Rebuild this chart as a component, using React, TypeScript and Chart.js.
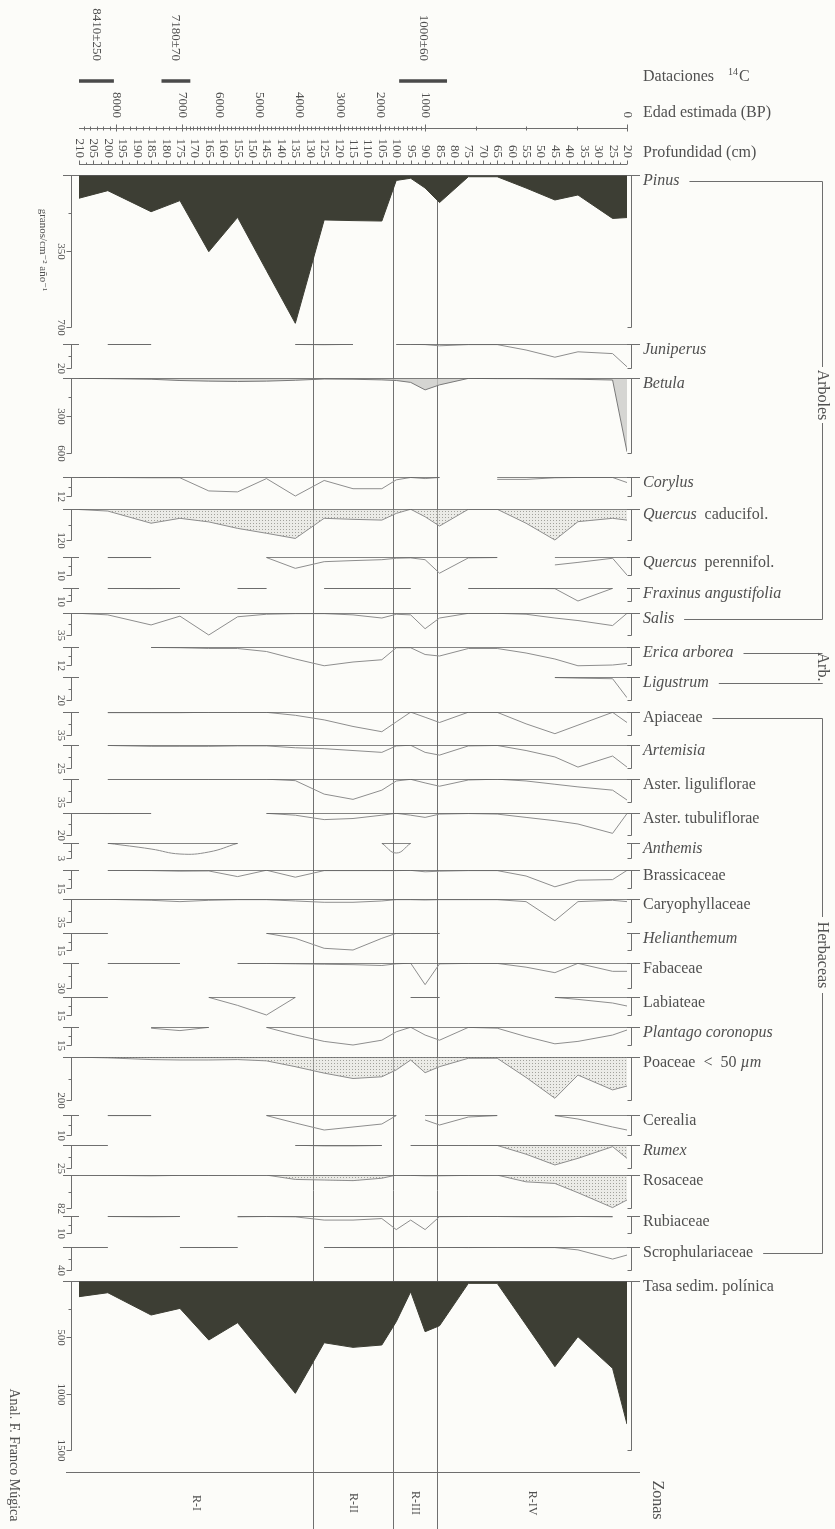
import React, { useEffect, useRef } from 'react';
import { Chart, registerables } from 'chart.js';

Chart.register(...registerables);

// ---------------- DATA ----------------
const depthsCm = [210, 200, 185, 175, 165, 155, 145, 135, 125, 115, 105, 100, 95, 90, 85, 75, 65, 55, 45, 37, 25, 20];

const depthTickLabels = [210, 205, 200, 195, 190, 185, 180, 175, 170, 165, 160, 155, 150, 145, 140, 135, 130, 125, 120, 115, 110, 105, 100, 95, 90, 85, 80, 75, 70, 65, 60, 55, 50, 45, 40, 35, 30, 25, 20];
const ageLabels = ['8000', '7000', '6000', '5000', '4000', '3000', '2000', '1000', '0'];
const ageDepths = [197, 174.2, 161.6, 147.7, 133.8, 119.5, 105.6, 90, 20];

const datingLabels = ['8410±250', '7180±70', '1000±60'];
const datingFrom = [210, 181.4, 99];
const datingTo = [197.9, 171.4, 82.4];

const zoneNames = ['R-I', 'R-II', 'R-III', 'R-IV'];
const zoneBounds = [129, 101, 86];

const pinus = [107, 72, 169, 118, 353, 195, 440, 683, 207, 210, 212, 25, 15, 60, 127, 8, 8, 60, 115, 92, 200, 196];
const juniperus = [null, 0.4, 0.4, null, null, null, null, 0.4, 0.6, 0.3, null, 0.3, 0.3, 0.5, 1.5, 0.5, 0.5, 5, 11, 6.5, 8, 19];
const betula = [3, 5, 10, 20, 25, 28, 25, 18, 8, 10, 15, 20, 35, 95, 55, 3, 5, 5, 8, 10, 16, 590];
const corylus = [0.3, 0.3, 0.5, 0.5, 8.8, 9.4, 1, 12, 2.2, 7.4, 7.4, 1.8, 0.3, 1, 0.3, null, 1.5, 1.5, 0.5, 0.3, 0.3, 3.5];
const quercusCad = [2, 8, 55, 36, 50, 75, 94, 114, 36, 40, 43, 17, 1, 30, 66, 1, 1, 55, 120, 49, 36, 43];
const quercusPer = [null, 0.3, 0.3, null, null, null, 0.3, 6.3, 2.6, 2, 1.5, 0.7, 0.5, 1.5, 9, 0.5, 0.3, null, 4.4, 3, 0.7, 10];
const fraxinus = [null, 0.3, 0.5, 0.3, null, 0.3, 0.3, null, 0.3, 0.3, 0.3, 0.3, 0.3, null, null, 0.3, 0.3, 0.3, 0.5, 10, 0.3, null];
const salix = [0.5, 3, 19, 5, 35, 6, 2, 1, 1, 3, 8, 2, 3, 25, 8, 0.5, 0.5, 2, 8, 12, 20, 0.5];
const erica = [null, null, 0.3, 0.5, 1, 1, 3, 8, 12.5, 10, 8.5, 0.5, 0.5, 5, 6, 1, 1, 4, 8, 12.5, 12, 11];
const ligustrum = [null, null, null, null, null, null, null, null, null, null, null, null, null, null, null, null, null, null, 0.5, 1, 1.5, 18];
const apiaceae = [null, 1, 1, 1, 0.5, 0.5, 0.5, 5, 12, 22, 30, 15, 0.2, 8, 16, 0.3, 0.5, 18, 33, 20, 0.5, 16];
const artemisia = [null, 0.5, 1.5, 1.5, 1.5, 1, 1, 3, 4, 6, 8, 1, 0.3, 8, 11, 1, 0.5, 6, 13, 24, 12, 24];
const asterLig = [null, 0.3, 0.3, 0.5, 0.5, 0.3, 0.3, 2.5, 23, 31, 17, 3, 0.5, 6, 11, 1.5, 0.3, 3, 8, 12, 17, 32];
const asterTub = [0.3, 0.5, 0.3, null, null, null, 0.3, 2, 6, 5, 2, 0.3, 2, 4, 1, 0.5, 1, 4, 7, 10, 18.5, 0.5];
const anthemis = [null, 0.05, 1.2, 2.2, 1.8, 0.05, null, null, null, null, 0.05, 2, 0.05, null, null, null, null, null, null, null, null, null];
const brassicaceae = [null, 0.3, 0.5, 1, 0.8, 5.5, 0.2, 6, 0.5, 0.5, 0.5, 0.5, 0.3, 1.5, 1, 0.5, 0.5, 5, 14, 8.5, 8, 0.3];
const caryophyllaceae = [0.5, 0.5, 2, 4, 2, 1, 1, 3, 5, 5, 3, 1, 1, 1.5, 1, 1, 1, 4, 33, 4, 2, 4];
const helianthemum = [0.3, 0.3, null, null, null, null, 0.3, 4.7, 13.5, 15, 4.7, 0.3, 0.3, 0.3, 0.3, null, null, null, null, null, null, null];
const fabaceae = [null, 0.3, 0.3, 0.3, null, 0.3, 0.5, 1, 1.5, 2, 3, 1, 0.2, 26, 1, 0.5, 0.5, 5, 11.6, 0.4, 10, 10];
const labiateae = [0.3, 0.3, null, null, 0.3, 7, 15, 0.3, null, null, null, null, 0.3, 0.3, 0.3, null, null, null, 0.3, 2, 5, 7.5];
const plantago = [0.3, null, 1, 3, 0.3, null, 0.3, 6.6, 12, 15, 11, 4, 0.2, 6.7, 11, 0.3, 1, 8, 14, 12, 6.7, 2.5];
const poaceae = [1, 4, 12, 14, 14, 12, 18, 45, 75, 100, 92, 60, 14, 73, 45, 6, 6, 95, 192, 84, 153, 135];
const cerealia = [null, 0.3, 0.3, null, null, null, 0.3, 4, 7.5, 6, 4.5, 0.3, null, 2.5, 5, 1, 0.3, null, 0.3, 2, 6, 7.5];
const rumex = [0.3, 0.3, null, null, null, null, null, 0.3, 1, 1, 0.5, null, 0.3, 0.3, 0.3, 0.3, 0.5, 10, 21.7, 14.5, 1.8, 14.5];
const rosaceae = [0.5, 1, 2, 1, 1, 0.5, 0.3, 11, 12.5, 14, 8, 0.3, 1, 2, 2, 1, 0.3, 17, 21, 44, 81, 62];
const rubiaceae = [null, 0.3, 0.5, 0.3, null, 0.5, 0.3, 0.5, 2.4, 2.4, 1.5, 8, 2.4, 8, 0.4, 0.3, 0.3, 0.5, 0.5, 0.3, 0.5, null];
const scrophulariaceae = [0.5, 0.5, null, 0.5, 1, 0.5, null, null, 0.5, 1, 1, 1, 0.5, 0.5, 0.5, 1, 0.5, 1, 1, 5, 21, 14];
const tasaSedim = [139, 104, 302, 243, 524, 370, 684, 997, 548, 589, 568, 361, 95, 450, 397, 21, 21, 390, 760, 494, 775, 1270];

// scale tick labels (left axis) for each curve
const scaleTicks = [
  [350, 700], [20], [300, 600], [12], [120], [10], [10], [35], [12], [20],
  [35], [25], [35], [20], [3], [15], [35], [15], [30], [15], [15], [200], [10], [25], [82], [10], [40],
  [500, 1000, 1500],
];

// ---------------- LAYOUT / STYLE (not data) ----------------
const baselinePx = [175, 344, 378, 477, 509, 557, 588, 613, 647, 677, 712, 745, 779, 813, 843, 870, 899, 933, 963, 997, 1027, 1057, 1115, 1145, 1175, 1216, 1247, 1281];
const tickPx = [327, 368, 453, 496, 540, 575, 601, 635, 665, 700, 735, 768, 802, 835, 858, 888, 922, 950, 988, 1015, 1045, 1100, 1135, 1168, 1208, 1233, 1270, 1450];
const bandEndPx = 1456;

const SERIF = '"Liberation Serif", "DejaVu Serif", "Times New Roman", serif';
const TEXT = '#505050';
const AXIS = '#6e6e6e';
const CURVE = '#8e8e8e';
const DARK = '#3d3e34';

type Part = [string, boolean];
const taxa: { name: Part[]; values: (number | null)[]; fill: string; smooth?: boolean }[] = [
  { name: [['Pinus', true]], values: pinus, fill: 'dark' },
  { name: [['Juniperus', true]], values: juniperus, fill: 'none' },
  { name: [['Betula', true]], values: betula, fill: 'gray' },
  { name: [['Corylus', true]], values: corylus, fill: 'none' },
  { name: [['Quercus', true], ['  caducifol.', false]], values: quercusCad, fill: 'dots' },
  { name: [['Quercus', true], ['  perennifol.', false]], values: quercusPer, fill: 'none' },
  { name: [['Fraxinus angustifolia', true]], values: fraxinus, fill: 'none' },
  { name: [['Salis', true]], values: salix, fill: 'none' },
  { name: [['Erica arborea', true]], values: erica, fill: 'none' },
  { name: [['Ligustrum', true]], values: ligustrum, fill: 'none' },
  { name: [['Apiaceae', false]], values: apiaceae, fill: 'none' },
  { name: [['Artemisia', true]], values: artemisia, fill: 'none' },
  { name: [['Aster. liguliflorae', false]], values: asterLig, fill: 'none' },
  { name: [['Aster. tubuliflorae', false]], values: asterTub, fill: 'none' },
  { name: [['Anthemis', true]], values: anthemis, fill: 'none', smooth: true },
  { name: [['Brassicaceae', false]], values: brassicaceae, fill: 'none' },
  { name: [['Caryophyllaceae', false]], values: caryophyllaceae, fill: 'none' },
  { name: [['Helianthemum', true]], values: helianthemum, fill: 'none' },
  { name: [['Fabaceae', false]], values: fabaceae, fill: 'none' },
  { name: [['Labiateae', false]], values: labiateae, fill: 'none' },
  { name: [['Plantago coronopus', true]], values: plantago, fill: 'none' },
  { name: [['Poaceae  <  50 ', false], ['µm', true]], values: poaceae, fill: 'dots' },
  { name: [['Cerealia', false]], values: cerealia, fill: 'none' },
  { name: [['Rumex', true]], values: rumex, fill: 'dots' },
  { name: [['Rosaceae', false]], values: rosaceae, fill: 'dots' },
  { name: [['Rubiaceae', false]], values: rubiaceae, fill: 'none' },
  { name: [['Scrophulariaceae', false]], values: scrophulariaceae, fill: 'none' },
  { name: [['Tasa sedim. polínica', false]], values: tasaSedim, fill: 'dark' },
];

function seg(ctx: any, x1: number, y1: number, x2: number, y2: number) {
  ctx.beginPath();
  ctx.moveTo(x1, y1);
  ctx.lineTo(x2, y2);
  ctx.stroke();
}

function vtext(ctx: any, s: string, x: number, y: number, align: string, font: string) {
  ctx.save();
  ctx.font = font;
  ctx.translate(x, y);
  ctx.rotate(Math.PI / 2);
  ctx.textAlign = align;
  ctx.textBaseline = 'middle';
  ctx.fillText(s, 0, 0);
  ctx.restore();
}

function drawRich(ctx: any, parts: Part[], x: number, y: number) {
  let cx = x;
  ctx.textAlign = 'left';
  ctx.textBaseline = 'middle';
  for (const [txt, it] of parts) {
    ctx.font = `${it ? 'italic ' : ''}16px ${SERIF}`;
    ctx.fillText(txt, cx, y);
    cx += ctx.measureText(txt).width;
  }
  return cx;
}

function makeDots() {
  const c = document.createElement('canvas');
  c.width = 3;
  c.height = 3;
  const g = c.getContext('2d')!;
  g.fillStyle = 'rgba(215,215,208,0.45)';
  g.fillRect(0, 0, 3, 3);
  g.fillStyle = 'rgba(110,110,105,0.6)';
  g.fillRect(1, 1, 1, 1);
  return g.createPattern(c, 'repeat');
}

const decorPlugin = {
  id: 'pollenDecor',
  beforeDraw(chart: any) {
    const { ctx, width, height } = chart;
    ctx.save();
    ctx.fillStyle = '#fcfcf9';
    ctx.fillRect(0, 0, width, height);
    ctx.restore();
  },
  beforeDatasetsDraw(chart: any) {
    const { ctx } = chart;
    const X = chart.scales.x;
    ctx.save();
    ctx.strokeStyle = '#707070';
    ctx.lineWidth = 1;
    zoneBounds.forEach((d) => {
      const x = Math.round(X.getPixelForValue(d)) + 0.5;
      seg(ctx, x, chart.chartArea.top, x, chart.height);
    });
    ctx.restore();
  },
  afterDatasetsDraw(chart: any) {
    const { ctx } = chart;
    const X = chart.scales.x;
    const xL = X.getPixelForValue(210);
    const xR = X.getPixelForValue(20);
    ctx.save();
    ctx.strokeStyle = AXIS;
    ctx.fillStyle = TEXT;
    ctx.lineWidth = 1;

    // ---- per-curve axes and names ----
    const labelEnds: number[] = [];
    const labelYs: number[] = [];
    const axL = Math.round(xL) - 7.5;
    const axR = Math.round(xR) + 4.5;
    taxa.forEach((t, i) => {
      const s = chart.scales['y' + i];
      const ticks = scaleTicks[i];
      const yB = Math.round(s.getPixelForValue(0)) + 0.5;
      const yM = Math.round(s.getPixelForValue(ticks[ticks.length - 1])) + 0.5;
      seg(ctx, xL - 16, yB, xL, yB);
      seg(ctx, axL, yB, axL, yM);
      ticks.forEach((v) => {
        const y = Math.round(s.getPixelForValue(v)) + 0.5;
        seg(ctx, axL - 5, y, axL, y);
        vtext(ctx, String(v), axL - 11, y, 'center', `11px ${SERIF}`);
      });
      const yh = Math.round(s.getPixelForValue(ticks[0] / 2)) + 0.5;
      seg(ctx, axL - 3, yh, axL, yh);
      seg(ctx, xR, yB, xR + 13, yB);
      seg(ctx, axR, yB, axR, yM);
      seg(ctx, axR - 4, yM, axR, yM);
      const ly = yB + 5;
      labelYs.push(ly);
      labelEnds.push(drawRich(ctx, t.name, 643, ly));
    });

    // ---- group brackets ----
    const BX = 822.5;
    const bracket = (iTop: number, iBot: number, label: string, center: number, halfGap: number) => {
      const yT = Math.round(labelYs[iTop]) + 0.5;
      const yBt = Math.round(labelYs[iBot]) + 0.5;
      seg(ctx, labelEnds[iTop] + 10, yT, BX, yT);
      seg(ctx, labelEnds[iBot] + 10, yBt, BX, yBt);
      if (center - halfGap > yT) seg(ctx, BX, yT, BX, center - halfGap);
      if (center + halfGap < yBt) seg(ctx, BX, center + halfGap, BX, yBt);
      vtext(ctx, label, BX, center, 'center', `16px ${SERIF}`);
    };
    bracket(0, 7, 'Arboles', 395, 28);
    bracket(8, 9, 'Arb.', 667, 16);
    bracket(10, 26, 'Herbaceas', 955, 38);

    vtext(ctx, 'granos/cm⁻² año⁻¹', 43, 250, 'center', `11px ${SERIF}`);

    // ---- depth axis (top) ----
    const yDepth = 164.5;
    seg(ctx, xL, yDepth, xR, yDepth);
    depthTickLabels.forEach((d) => {
      const x = Math.round(X.getPixelForValue(d)) + 0.5;
      seg(ctx, x, yDepth, x, yDepth - 4);
      vtext(ctx, String(d), x, 158, 'right', `13px ${SERIF}`);
    });
    for (let d = 207.5; d > 20; d -= 5) {
      const x = Math.round(X.getPixelForValue(d)) + 0.5;
      seg(ctx, x, yDepth, x, yDepth - 2);
    }

    // ---- age axis ----
    const yAge = 128.5;
    seg(ctx, xL, yAge, xR, yAge);
    const ages = ageLabels.map(Number);
    ages.forEach((a, k) => {
      const x = Math.round(X.getPixelForValue(ageDepths[k])) + 0.5;
      seg(ctx, x, yAge - 4, x, yAge + 3);
      vtext(ctx, ageLabels[k], x, 118, 'right', `13px ${SERIF}`);
    });
    const minorTick = (d: number) => {
      if (d > 210 || d < 20) return;
      const x = Math.round(X.getPixelForValue(d)) + 0.5;
      seg(ctx, x, yAge - 2, x, yAge + 2);
    };
    for (let k = 0; k < ages.length - 1; k++) {
      const a0 = ages[k], a1 = ages[k + 1], d0 = ageDepths[k], d1 = ageDepths[k + 1];
      const step = a1 >= 1000 ? 100 : 250;
      for (let a = a0 - step; a > a1; a -= step) minorTick(d0 + ((d1 - d0) * (a0 - a)) / (a0 - a1));
    }
    {
      const slope = (ageDepths[0] - ageDepths[1]) / (ages[0] - ages[1]);
      for (let a = ages[0] + 100; ; a += 100) {
        const d = ageDepths[0] + slope * (a - ages[0]);
        if (d > 210) break;
        minorTick(d);
      }
    }

    // ---- datings ----
    ctx.save();
    ctx.strokeStyle = '#4a4a4a';
    ctx.lineWidth = 3.5;
    datingLabels.forEach((lab, k) => {
      const x1 = X.getPixelForValue(datingFrom[k]);
      const x2 = X.getPixelForValue(datingTo[k]);
      seg(ctx, x1, 81, x2, 81);
      vtext(ctx, lab, (x1 + x2) / 2, 61, 'right', `13px ${SERIF}`);
    });
    ctx.restore();

    // ---- header labels ----
    ctx.textAlign = 'left';
    ctx.textBaseline = 'middle';
    ctx.font = `16px ${SERIF}`;
    ctx.fillText('Dataciones', 643, 77);
    ctx.font = `10px ${SERIF}`;
    ctx.fillText('14', 728, 72);
    ctx.font = `16px ${SERIF}`;
    ctx.fillText('C', 739, 77);
    ctx.fillText('Edad estimada (BP)', 643, 113);
    ctx.fillText('Profundidad (cm)', 643, 153);

    // ---- zones ----
    seg(ctx, 66, 1472.5, 640, 1472.5);
    const edges = [210, ...zoneBounds, 20];
    zoneNames.forEach((z, k) => {
      const cx = (X.getPixelForValue(edges[k]) + X.getPixelForValue(edges[k + 1])) / 2;
      vtext(ctx, z, cx, 1503, 'center', `12px ${SERIF}`);
    });
    vtext(ctx, 'Zonas', 657, 1500, 'center', `16px ${SERIF}`);
    vtext(ctx, 'Anal. F. Franco Múgica', 14, 1455, 'center', `14px ${SERIF}`);

    ctx.restore();
  },
};

export default function App() {
  const ref = useRef<HTMLCanvasElement>(null);

  useEffect(() => {
    document.body.style.margin = '0';
    const canvas = ref.current!;
    const dots = makeDots();

    const scales: any = {
      x: { type: 'linear', min: 20, max: 210, reverse: true, display: false },
    };
    const datasets: any[] = [];
    taxa.forEach((t, i) => {
      const band = (i < taxa.length - 1 ? baselinePx[i + 1] : bandEndPx) - baselinePx[i];
      const ticks = scaleTicks[i];
      const top = ticks[ticks.length - 1];
      scales['y' + i] = {
        type: 'linear',
        display: false,
        position: 'left',
        stack: 'pollen',
        stackWeight: band,
        weight: 100 - i,
        reverse: true,
        min: 0,
        max: (top * band) / (tickPx[i] - baselinePx[i]),
      };
      let bg: any = 'rgba(0,0,0,0)';
      let bc = CURVE;
      if (t.fill === 'dark') {
        bg = DARK;
        bc = DARK;
      } else if (t.fill === 'gray') {
        bg = 'rgba(200,200,196,0.75)';
        bc = '#7a7a7a';
      } else if (t.fill === 'dots') {
        bg = dots;
      }
      datasets.push({
        type: 'line',
        data: depthsCm.map((d, j) => ({ x: d, y: t.values[j] })),
        xAxisID: 'x',
        yAxisID: 'y' + i,
        borderColor: bc,
        borderWidth: 1,
        backgroundColor: bg,
        fill: t.fill === 'none' ? false : 'origin',
        pointRadius: 0,
        tension: t.smooth ? 0.45 : 0,
        spanGaps: false,
        order: 2,
      });
      datasets.push({
        type: 'line',
        data: depthsCm.map((d, j) => ({ x: d, y: t.values[j] === null ? null : 0 })),
        xAxisID: 'x',
        yAxisID: 'y' + i,
        borderColor: '#5e5e5e',
        borderWidth: 1.3,
        fill: false,
        pointRadius: 0,
        spanGaps: false,
        order: 1,
      });
    });

    const chart = new Chart(canvas, {
      type: 'line',
      data: { datasets },
      options: {
        responsive: false,
        animation: false,
        devicePixelRatio: 1,
        events: [],
        layout: { padding: { left: 79, right: 208, top: 175, bottom: 1529 - bandEndPx } },
        plugins: { legend: { display: false }, tooltip: { enabled: false }, title: { display: false } },
        scales,
      },
      plugins: [decorPlugin],
    } as any);
    return () => chart.destroy();
  }, []);

  return (
    <canvas
      ref={ref}
      width={835}
      height={1529}
      style={{ display: 'block', position: 'absolute', left: 0, top: 0, width: 835, height: 1529 }}
    />
  );
}
